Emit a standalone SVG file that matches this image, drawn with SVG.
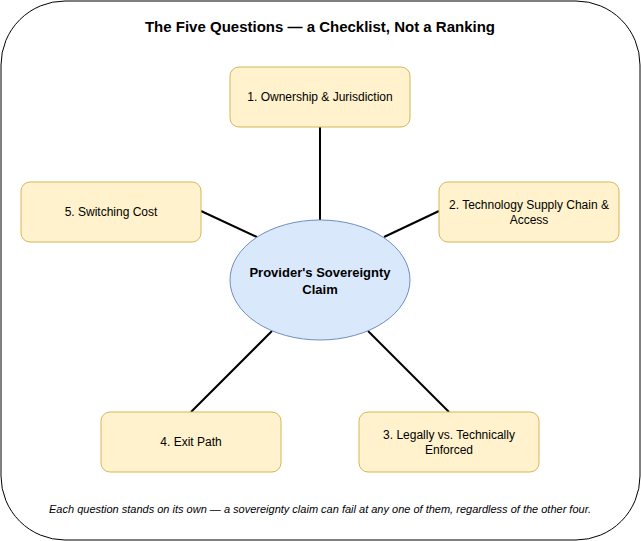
<svg xmlns="http://www.w3.org/2000/svg" width="641" height="541" viewBox="0 0 641 541">
<style>
.box{fill:#fff2cc;stroke:#d6b656;stroke-width:1}
.t{font-family:"Liberation Sans",Arial,sans-serif;font-size:11px;fill:#000;text-anchor:middle}
.b{font-size:12px}
.c{stroke:#000;stroke-width:2;fill:none}
</style>
<rect x="1" y="1" width="639" height="539" rx="64" ry="64" fill="#fff" stroke="#000" stroke-width="1"/>
<text x="320" y="32" class="t" style="font-size:15px;font-weight:bold">The Five Questions — a Checklist, Not a Ranking</text>
<g id="connectors">
<line class="c" x1="320" y1="127" x2="320" y2="220"/>
<line class="c" x1="439" y1="211" x2="384" y2="237"/>
<line class="c" x1="201" y1="211" x2="257" y2="237"/>
<line class="c" x1="191" y1="412" x2="272" y2="331"/>
<line class="c" x1="449" y1="412" x2="368" y2="331"/>
</g>
<g id="center">
<ellipse cx="320" cy="280" rx="90" ry="60" fill="#dae8fc" stroke="#6c8ebf"/>
<text class="t" x="320" y="277" style="font-size:13px;font-weight:bold">Provider's Sovereignty</text>
<text class="t" x="320" y="294" style="font-size:13px;font-weight:bold">Claim</text>
</g>
<g id="q1"><rect class="box" x="230" y="67" width="180" height="60" rx="9"/><text class="t b" x="320" y="101">1. Ownership &amp; Jurisdiction</text></g>
<g id="q2"><rect class="box" x="439" y="182" width="180" height="60" rx="9"/><text class="t b" x="529" y="209">2. Technology Supply Chain &amp;</text><text class="t b" x="529" y="224">Access</text></g>
<g id="q3"><rect class="box" x="359" y="412" width="180" height="60" rx="9"/><text class="t b" x="449" y="439">3. Legally vs. Technically</text><text class="t b" x="449" y="454">Enforced</text></g>
<g id="q4"><rect class="box" x="101" y="412" width="180" height="60" rx="9"/><text class="t b" x="191" y="446">4. Exit Path</text></g>
<g id="q5"><rect class="box" x="21" y="182" width="180" height="60" rx="9"/><text class="t b" x="111" y="216">5. Switching Cost</text></g>
<text class="t" x="320" y="513" style="font-style:italic">Each question stands on its own — a sovereignty claim can fail at any one of them, regardless of the other four.</text>
</svg>
